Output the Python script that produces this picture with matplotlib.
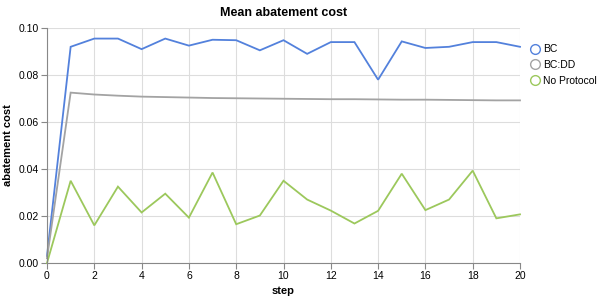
import numpy as np
import matplotlib.pyplot as plt
from matplotlib.lines import Line2D

steps = list(range(21))
bc = [0.003, 0.092, 0.0955, 0.0955, 0.091, 0.0955, 0.0925, 0.095, 0.0948, 0.0905, 0.0948,
      0.089, 0.094, 0.094, 0.078, 0.0943, 0.0915, 0.092, 0.094, 0.094, 0.092]
bc_dd = [0.002, 0.0725, 0.0717, 0.0712, 0.0708, 0.0706, 0.0704, 0.0702, 0.0701, 0.0700, 0.0699,
         0.0698, 0.0697, 0.0697, 0.0696, 0.0695, 0.0695, 0.0694, 0.0693, 0.0692, 0.0692]
no_protocol = [0.0, 0.035, 0.016, 0.0325, 0.0215, 0.0295, 0.0193, 0.0385, 0.0165, 0.0202, 0.035,
               0.027, 0.0223, 0.0168, 0.0222, 0.038, 0.0225, 0.027, 0.0393, 0.019, 0.0207]

names = ['BC', 'BC:DD', 'No Protocol']
colors = ['#5381dc', '#a3a3a3', '#9cc85c']

plt.rcParams['font.family'] = ['Liberation Sans', 'DejaVu Sans']

fig = plt.figure(figsize=(6, 3), dpi=100)
ax = fig.add_axes([47 / 600, 1 - 263 / 300, 473 / 600, 235 / 300])

for ys, c in zip([bc, bc_dd, no_protocol], colors):
    ax.plot(steps, ys, color=c, lw=1.3, solid_joinstyle='miter', clip_on=False)

ax.set_xlim(0, 20)
ax.set_ylim(0, 0.10)
ax.set_xticks(range(0, 21, 2))
ax.set_yticks(np.arange(0, 0.101, 0.02))
ax.set_yticklabels(['%.2f' % v for v in np.arange(0, 0.101, 0.02)])
ax.grid(True, color='#dddddd', lw=0.8)
ax.set_axisbelow(True)
for s in ['top', 'right']:
    ax.spines[s].set_visible(False)
for s in ['left', 'bottom']:
    ax.spines[s].set_color('#888888')
    ax.spines[s].set_linewidth(0.8)
ax.tick_params(length=4, width=0.8, color='#888888', labelsize=7.5, pad=2)

ax.set_xlabel('step', fontsize=8, fontweight='bold', labelpad=3)
ax.set_ylabel('abatement cost', fontsize=8, fontweight='bold', labelpad=4)
ax.set_title('Mean abatement cost', fontsize=9, fontweight='bold', pad=9)

handles = [Line2D([], [], marker='o', ls='', markersize=7, markerfacecolor='none',
                  markeredgecolor=c, markeredgewidth=1.0) for c in colors]
fig.legend(handles, names, loc='upper left', bbox_to_anchor=(521 / 600, 1 - 39 / 300),
           frameon=False, fontsize=7.5, handletextpad=0.0, labelspacing=0.55,
           borderpad=0, handlelength=1.6)

fig.savefig('out.png', dpi=100)
